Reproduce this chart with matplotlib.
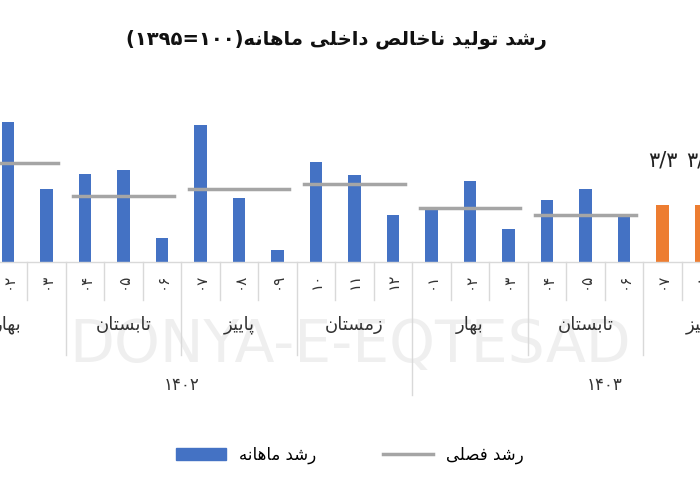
import matplotlib
matplotlib.use("Agg")
import matplotlib.pyplot as plt
from matplotlib.lines import Line2D
from matplotlib.patches import Patch

# --- simple Persian shaping (presentation forms) ---
FORMS = {
    'ا': ('\uFE8D', '\uFE8E', None, None),
    'ب': ('\uFE8F', '\uFE90', '\uFE91', '\uFE92'),
    'پ': ('\uFB56', '\uFB57', '\uFB58', '\uFB59'),
    'ت': ('\uFE95', '\uFE96', '\uFE97', '\uFE98'),
    'خ': ('\uFEA5', '\uFEA6', '\uFEA7', '\uFEA8'),
    'د': ('\uFEA9', '\uFEAA', None, None),
    'ر': ('\uFEAD', '\uFEAE', None, None),
    'ز': ('\uFEAF', '\uFEB0', None, None),
    'س': ('\uFEB1', '\uFEB2', '\uFEB3', '\uFEB4'),
    'ش': ('\uFEB5', '\uFEB6', '\uFEB7', '\uFEB8'),
    'ص': ('\uFEB9', '\uFEBA', '\uFEBB', '\uFEBC'),
    'ف': ('\uFED1', '\uFED2', '\uFED3', '\uFED4'),
    'ل': ('\uFEDD', '\uFEDE', '\uFEDF', '\uFEE0'),
    'م': ('\uFEE1', '\uFEE2', '\uFEE3', '\uFEE4'),
    'ن': ('\uFEE5', '\uFEE6', '\uFEE7', '\uFEE8'),
    'ه': ('\uFEE9', '\uFEEA', '\uFEEB', '\uFEEC'),
    'و': ('\uFEED', '\uFEEE', None, None),
    'ی': ('\uFBFC', '\uFBFD', '\uFBFE', '\uFBFF'),
}


def fa(s):
    out = []
    for i, c in enumerate(s):
        if c not in FORMS:
            out.append(c)
            continue
        prev = s[i - 1] if i > 0 else ''
        nxt = s[i + 1] if i + 1 < len(s) else ''
        jp = prev in FORMS and FORMS[prev][2] is not None
        jn = FORMS[c][2] is not None and nxt in FORMS
        iso, fin, ini, med = FORMS[c]
        if jp and jn:
            out.append(med)
        elif jp:
            out.append(fin)
        elif jn:
            out.append(ini)
        else:
            out.append(iso)
    return ''.join(out)[::-1]


# --- data ---
months = ['۰۲', '۰۳', '۰۴', '۰۵', '۰۶', '۰۷', '۰۸', '۰۹', '۱۰', '۱۱', '۱۲',
          '۰۱', '۰۲', '۰۳', '۰۴', '۰۵', '۰۶', '۰۷', '۰۸']
monthly = [8.1, 4.2, 5.1, 5.3, 1.4, 7.9, 3.7, 0.7, 5.8, 5.0, 2.7,
           3.1, 4.7, 1.9, 3.6, 4.2, 2.7, 3.3, 3.3]
highlight = [False] * 17 + [True, True]
seasons = ['بهار', 'تابستان', 'پاییز', 'زمستان', 'بهار', 'تابستان', 'پاییز']
season_start = [-1, 2, 5, 8, 11, 14, 17]
seasonal = [5.7, 3.8, 4.2, 4.5, 3.1, 2.7, None]
years = ['۱۴۰۲', '۱۴۰۳']

BLUE = '#4472c4'
ORANGE = '#ed7d31'
GREY = '#a5a5a5'

fig = plt.figure(figsize=(7, 4.9), dpi=100)
plt.rcParams['font.family'] = ['DejaVu Sans']

# pixel helpers
x0, dx = 8, 38.5
def xpx(i):
    return (x0 + dx * i) / 700
def ypx(y):
    return 1 - y / 490

# watermark
fig.text(0.5, ypx(345), 'DONYA-E-EQTESAD', ha='center', va='center', fontsize=42,
         color='#efefef', zorder=0)

ax = fig.add_axes([0, 228 / 490, 1, 162 / 490])
ax.set_xlim(-x0 / dx, (700 - x0) / dx)
ax.set_ylim(0, 9.36)
ax.axis('off')

xs = list(range(len(monthly)))
colors = [ORANGE if h else BLUE for h in highlight]
ax.bar(xs, monthly, width=0.32, color=colors, zorder=3)
for i, v in enumerate(monthly):
    if highlight[i]:
        ax.text(i, v + 2.0, str(v).replace('.', '/').translate(str.maketrans('0123456789', '۰۱۲۳۴۵۶۷۸۹')),
                ha='center', va='bottom', fontsize=15, color='#222222')
for s, v in zip(season_start, seasonal):
    if v is not None:
        ax.plot([s - 0.3, s + 2.3], [v, v], color=GREY, lw=2.5, zorder=4)

# axis base line and separators
fig.add_artist(Line2D([0, 1], [ypx(262), ypx(262)], color='#d9d9d9', lw=1))
for i in range(len(months)):
    xb = xpx(i - 0.5)
    if i in season_start:
        bottom = 395 if i == 11 else 355
    else:
        bottom = 300
    fig.add_artist(Line2D([xb, xb], [ypx(262), ypx(bottom)], color='#d9d9d9', lw=1))
    fig.text(xpx(i), ypx(281), months[i], rotation=90, ha='center', va='center',
             fontsize=11, color='#333333')
for name, s in zip(seasons, season_start):
    fig.text(xpx(s + 1), ypx(325), fa(name), ha='center', va='center',
             fontsize=13, color='#333333')
fig.text(xpx(4.5), ypx(385), years[0], ha='center', va='center', fontsize=12, color='#333333')
fig.text(xpx(15.5), ypx(385), years[1], ha='center', va='center', fontsize=12, color='#333333')

fig.text(0.48, ypx(40), '(۱۳۹۵=۱۰۰)' + fa('رشد تولید ناخالص داخلی ماهانه'),
         ha='center', va='center', fontsize=14, fontweight='bold', color='#111111')

handles = [Patch(color=BLUE), Line2D([0], [0], color=GREY, lw=2.5)]
fig.legend(handles, [fa('رشد ماهانه'), fa('رشد فصلی')], loc='center',
           bbox_to_anchor=(0.5, ypx(455)), ncol=2, frameon=False, fontsize=12,
           columnspacing=4, handlelength=3)

fig.savefig('out.png', dpi=100)
